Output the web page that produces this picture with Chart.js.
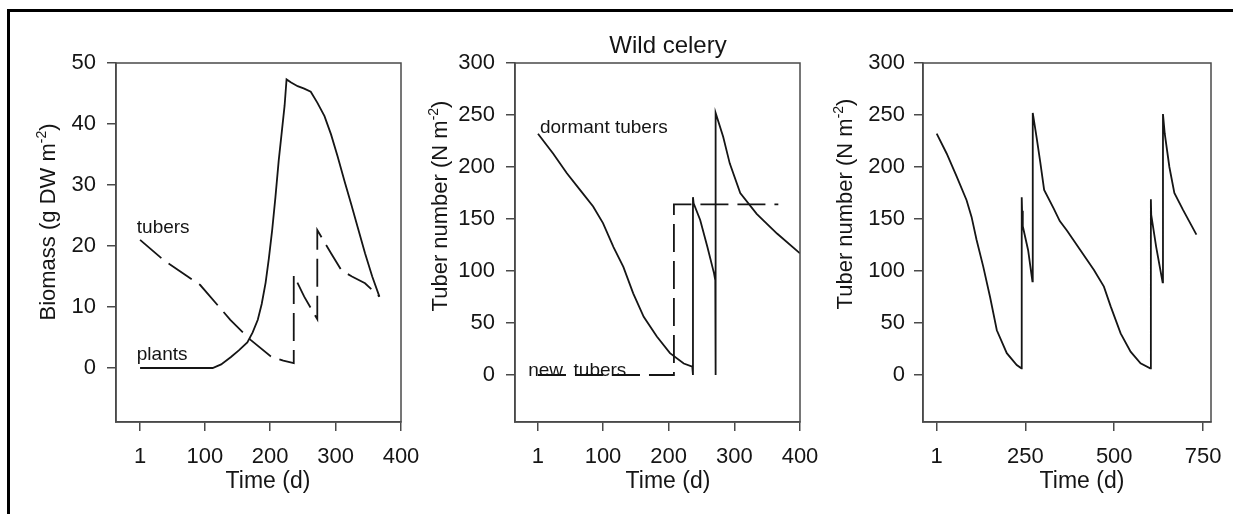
<!DOCTYPE html>
<html>
<head>
<meta charset="utf-8">
<script src="https://cdn.jsdelivr.net/npm/chart.js@4.4.1/dist/chart.umd.min.js"></script>
<style>
  body { margin: 0; background: #fff; }
  #wrap { position: relative; width: 1233px; height: 514px; overflow: hidden; }
  #frame { position: absolute; left: 7px; top: 9px; width: 1300px; height: 600px;
           border-top: 3px solid #000; border-left: 3px solid #000; }
  canvas { position: absolute; top: 0; }
</style>
</head>
<body>
<div id="wrap">
  <div id="frame"></div>
  <canvas id="c1" width="440" height="514" style="left:0px;width:440px;height:514px"></canvas>
  <canvas id="c2" width="440" height="514" style="left:411px;width:440px;height:514px"></canvas>
  <canvas id="c3" width="411" height="514" style="left:822px;width:411px;height:514px"></canvas>
</div>
<script>
// panel 1: biomass over one year
const plantsDays    = [1, 112, 125, 140, 152, 165, 173, 181, 187, 193, 198, 203, 208, 213, 218, 222, 225, 232, 242, 252, 262, 272, 283, 293, 303, 314, 324, 334, 345, 356, 367];
const plantsBiomass = [0, 0, 0.6, 1.8, 2.9, 4.2, 5.8, 7.9, 10.5, 14, 18, 22.6, 28, 34, 39, 43, 47.3, 46.8, 46.2, 45.8, 45.3, 43.5, 41.3, 38.3, 34.7, 30.5, 26.8, 23, 18.8, 15, 11.7];
const tubersDays    = [1, 37, 93, 139, 170, 201, 220, 236, 236, 252, 272, 272, 293, 309, 325, 345, 367];
const tubersBiomass = [21, 17.7, 13.6, 7.9, 4.6, 1.9, 1.2, 0.8, 15.2, 11.7, 8, 22.6, 18.8, 16, 15, 13.9, 11.7];

// panel 2: tuber numbers, first year
const dormantDays   = [1, 24, 45, 65, 85, 100, 116, 131, 146, 162, 182, 202, 223, 236, 237, 237, 238, 248, 259, 269, 271, 271, 272, 283, 293, 309, 334, 365, 400];
const dormantNumber = [232, 213, 194, 178, 162, 146, 123, 104, 78.5, 56, 37, 21, 11, 8, 0, 171, 165, 149, 123, 98, 91, 0, 252, 229, 203.5, 175, 155, 136, 117];
const newDays       = [1, 208, 208, 367];
const newNumber     = [0, 0, 164, 164];

// panel 3: tuber numbers over two years
const longDays   = [1, 29, 57, 85, 99, 113, 132, 151, 170, 198, 226, 239, 240, 241, 243, 258, 270, 271, 282, 292, 303, 330, 347, 367, 405, 443, 471, 490, 518, 546, 574, 601, 603, 604, 618, 636, 637, 642, 655, 669, 693, 731];
const longNumber = [232, 213, 191, 168, 152, 130, 104, 75, 43, 21, 9.6, 6.4, 171, 158, 143, 120, 90, 252, 228, 205, 178, 160, 148, 139, 120, 101, 85, 66, 40, 22.4, 11.2, 6.4, 169, 154, 123, 89, 251, 232, 200, 175, 159, 135];

const yearTicks    = [1, 100, 200, 300, 400];
const twoYearTicks = [1, 250, 500, 750];
const biomassTicks = [0, 10, 20, 30, 40, 50];
const numberTicks  = [0, 50, 100, 150, 200, 250, 300];

const FONT = '"Liberation Sans", Arial, Helvetica, sans-serif';
const INK = '#151515';
const AXIS = '#4a4a4a';

function pts(xs, ys) { return xs.map((x, i) => ({ x: x, y: ys[i] })); }

const overlay = {
  id: 'overlay',
  afterDraw(chart, args, o) {
    const { ctx, chartArea: a, scales } = chart;
    ctx.save();
    ctx.strokeStyle = AXIS;
    ctx.lineWidth = 1.5;
    ctx.strokeRect(a.left, a.top, a.right - a.left, a.bottom - a.top);

    ctx.fillStyle = INK;
    ctx.textBaseline = 'alphabetic';
    ctx.font = '23px ' + FONT;
    ctx.textAlign = 'center';
    ctx.fillText('Time (d)', o.xTitleX, 488);

    if (o.title) {
      ctx.font = '24px ' + FONT;
      ctx.fillText(o.title, o.titleX, 53);
    }

    // y title, rotated, with superscript
    const parts = [
      { t: o.yTitle[0], f: '22px ' + FONT, dy: 0 },
      { t: o.yTitle[1], f: '14px ' + FONT, dy: -9 },
      { t: o.yTitle[2], f: '22px ' + FONT, dy: 0 }
    ];
    let total = 0;
    parts.forEach(p => { ctx.font = p.f; p.w = ctx.measureText(p.t).width; total += p.w; });
    ctx.translate(o.yTitleX, o.yTitleY);
    ctx.rotate(-Math.PI / 2);
    ctx.textAlign = 'left';
    let cx = -total / 2;
    parts.forEach(p => { ctx.font = p.f; ctx.fillText(p.t, cx, p.dy); cx += p.w; });
    ctx.setTransform(1, 0, 0, 1, 0, 0);

    ctx.font = '19px ' + FONT;
    ctx.textAlign = 'left';
    (o.notes || []).forEach(n => {
      ctx.fillText(n.text, scales.x.getPixelForValue(n.x), scales.y.getPixelForValue(n.y));
    });
    ctx.restore();
  }
};

function makeChart(id, cfg) {
  return new Chart(document.getElementById(id), {
    type: 'scatter',
    data: {
      datasets: cfg.series.map(s => ({
        data: s.data,
        showLine: true,
        borderColor: INK,
        borderWidth: 1.8,
        borderDash: s.dashed ? [28, 9] : [],
        pointRadius: 0,
        tension: 0,
        fill: false
      }))
    },
    options: {
      responsive: false,
      animation: false,
      layout: { padding: { left: 0, top: 63, right: cfg.padRight, bottom: 0 } },
      plugins: { legend: { display: false }, tooltip: { enabled: false }, overlay: cfg.overlay },
      scales: {
        x: {
          type: 'linear', min: cfg.xMin, max: cfg.xMax,
          afterBuildTicks: s => { s.ticks = cfg.xTicks.map(v => ({ value: v })); },
          afterFit: s => { s.height = 92; s.paddingLeft = 0; s.paddingRight = 0; },
          grid: { drawOnChartArea: false, drawTicks: true, tickLength: 9, color: AXIS, lineWidth: 1.5 },
          border: { display: true, color: AXIS, width: 1.5 },
          ticks: { color: INK, padding: 13, maxRotation: 0, autoSkip: false,
                   font: { family: FONT, size: 22 } }
        },
        y: {
          type: 'linear', min: cfg.yMin, max: cfg.yMax,
          afterBuildTicks: s => { s.ticks = cfg.yTicks.map(v => ({ value: v })); },
          afterFit: s => { s.width = cfg.yWidth; s.paddingTop = 0; s.paddingBottom = 0; },
          grid: { drawOnChartArea: false, drawTicks: true, tickLength: 9, color: AXIS, lineWidth: 1.5 },
          border: { display: true, color: AXIS, width: 1.5 },
          ticks: { color: INK, padding: cfg.yPad, autoSkip: false,
                   font: { family: FONT, size: 22 } }
        }
      }
    },
    plugins: [overlay]
  });
}

makeChart('c1', {
  series: [
    { data: pts(plantsDays, plantsBiomass), dashed: false },
    { data: pts(tubersDays, tubersBiomass), dashed: true }
  ],
  xMin: -35.8, xMax: 400, yMin: -8.85, yMax: 50,
  xTicks: yearTicks, yTicks: biomassTicks,
  yWidth: 116, padRight: 39, yPad: 11,
  overlay: {
    xTitleX: 268, yTitleX: 55, yTitleY: 222,
    yTitle: ['Biomass (g DW m', '-2', ')'],
    notes: [ { text: 'tubers', x: -4, y: 22.2 }, { text: 'plants', x: -4, y: 1.3 } ]
  }
});

makeChart('c2', {
  series: [
    { data: pts(dormantDays, dormantNumber), dashed: false },
    { data: pts(newDays, newNumber), dashed: true }
  ],
  xMin: -34, xMax: 400, yMin: -45.2, yMax: 300,
  xTicks: yearTicks, yTicks: numberTicks,
  yWidth: 104, padRight: 51, yPad: 11,
  overlay: {
    title: 'Wild celery', titleX: 257,
    xTitleX: 257, yTitleX: 36, yTitleY: 206,
    yTitle: ['Tuber number (N m', '-2', ')'],
    notes: [ { text: 'dormant tubers', x: 4, y: 232.7 }, { text: 'new  tubers', x: -14, y: -0.5 } ]
  }
});

makeChart('c3', {
  series: [
    { data: pts(longDays, longNumber), dashed: false }
  ],
  xMin: -37.5, xMax: 772, yMin: -45.2, yMax: 300,
  xTicks: twoYearTicks, yTicks: numberTicks,
  yWidth: 101, padRight: 22, yPad: 9,
  overlay: {
    xTitleX: 260, yTitleX: 30, yTitleY: 204,
    yTitle: ['Tuber number (N m', '-2', ')'],
    notes: []
  }
});
</script>
</body>
</html>
